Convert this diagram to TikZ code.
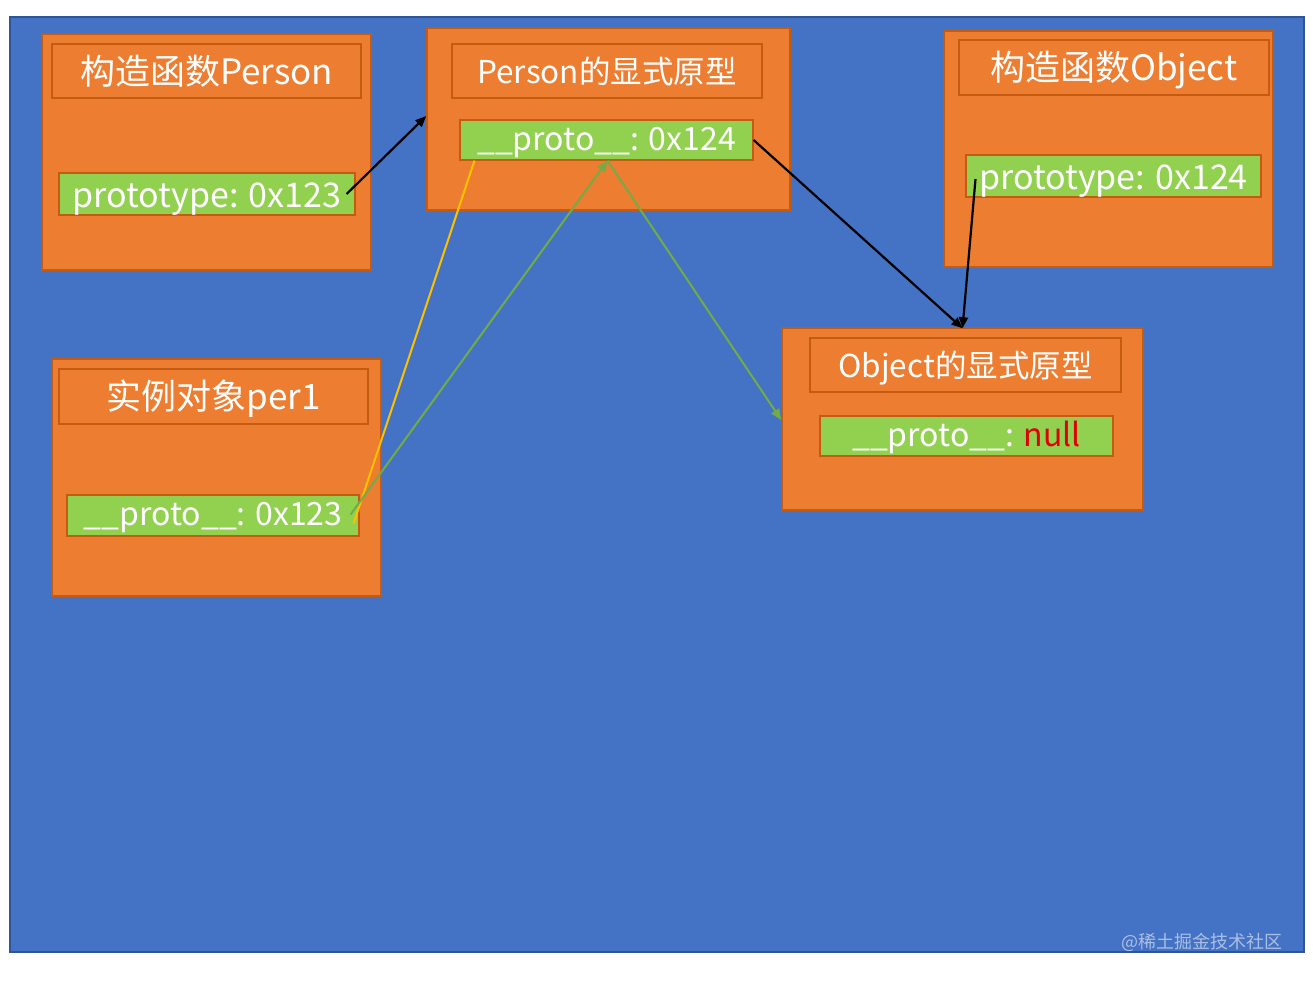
\documentclass[tikz,border=0pt]{standalone}
\usepackage{fontspec}
\setmainfont{Noto Sans CJK SC}
\usetikzlibrary{arrows.meta}
\definecolor{bgblue}{HTML}{4472C4}
\definecolor{bgedge}{HTML}{2F5597}
\definecolor{boxorange}{HTML}{ED7D31}
\definecolor{boxedge}{HTML}{C55A11}
\definecolor{slotgreen}{HTML}{92D050}
\definecolor{linkgreen}{HTML}{70AD47}
\definecolor{linkgold}{HTML}{FFC000}
\definecolor{nullred}{HTML}{E00000}
\tikzset{
  objbox/.style={draw=boxedge, line width=1.5pt, fill=boxorange, inner sep=0pt},
  titlebox/.style={draw=boxedge, line width=1.5pt, text=white, inner sep=0pt},
  slotbox/.style={draw=boxedge, line width=1.2pt, fill=slotgreen, text=white, inner sep=0pt},
  bigtext/.style={font=\fontsize{35}{40}\selectfont, text height=26pt, text depth=0pt},
  midtext/.style={font=\fontsize{31.5}{36}\selectfont, text height=24pt, text depth=0pt},
  slottext/.style={font=\fontsize{34}{38}\selectfont, text height=26pt, text depth=0pt},
  protext/.style={font=\fontsize{32}{36}\selectfont, text height=20pt, text depth=0pt},
  link/.style={line width=2.2pt, -{Triangle[length=11pt,width=9pt]}}
}
\begin{document}
\begin{tikzpicture}[x=1pt,y=-1pt]
\useasboundingbox (0,0) rectangle (1313,980);
\fill[white] (0,0) rectangle (1313,980);
\draw[bgedge, line width=1.5pt, fill=bgblue] (10,17) rectangle (1304,952);

% constructor Person
\node[objbox, minimum width=329pt, minimum height=236pt] (ctorP) at (206.5,152) {};
\node[titlebox, bigtext, minimum width=309pt, minimum height=54pt] (ctorPtitle) at (206.5,71) {构造函数Person};
\node[slotbox, slottext, minimum width=296pt, minimum height=42pt] (ctorPslot) at (207,194) {prototype: 0x123};

% Person prototype
\node[objbox, minimum width=363pt, minimum height=182pt] (protoP) at (608.5,119) {};
\node[titlebox, midtext, minimum width=310pt, minimum height=54pt] (protoPtitle) at (607,71) {Person的显式原型};
\node[slotbox, protext, minimum width=293pt, minimum height=40pt] (protoPslot) at (606.5,140) {\_\_proto\_\_: 0x124};

% constructor Object
\node[objbox, minimum width=329pt, minimum height=236pt] (ctorO) at (1108.5,149) {};
\node[titlebox, bigtext, minimum width=310pt, minimum height=55pt] (ctorOtitle) at (1114,67.5) {构造函数Object};
\node[slotbox, slottext, minimum width=295pt, minimum height=42pt] (ctorOslot) at (1113.5,176) {prototype: 0x124};

% instance per1
\node[objbox, minimum width=329pt, minimum height=237pt] (per) at (216.5,477.5) {};
\node[titlebox, bigtext, minimum width=309pt, minimum height=55pt] (pertitle) at (213.5,396.5) {实例对象per1};
\node[slotbox, protext, minimum width=292pt, minimum height=41pt] (perslot) at (213,515.5) {\_\_proto\_\_: 0x123};

% Object prototype
\node[objbox, minimum width=361pt, minimum height=182pt] (protoO) at (962.5,419) {};
\node[titlebox, midtext, minimum width=311pt, minimum height=54pt] (protoOtitle) at (965.5,365) {Object的显式原型};
\node[slotbox, protext, minimum width=293pt, minimum height=40pt] (protoOslot) at (966.5,436) {\_\_proto\_\_: \textcolor{nullred}{null}};

% links
\coordinate (ctorPout) at ([xshift=-9pt]ctorPslot.east);
\coordinate (ctorOout) at ([xshift=-138pt,yshift=-3pt]ctorOslot.center);
\coordinate (perout) at ([xshift=-6pt,yshift=-8pt]perslot.east);
\coordinate (perout2) at ([xshift=-9pt,yshift=1pt]perslot.east);
\coordinate (protoPin) at ([xshift=1pt]protoPslot.south);
\coordinate (protoPleft) at ([xshift=-132pt]protoPslot.south);
\coordinate (protoOin) at ([yshift=-1pt]protoO.north);
\coordinate (protoOside) at ([yshift=-1pt]protoO.west);

\draw[link] (ctorPout) -- ([yshift=3pt]protoP.west);
\draw[link] (protoPslot.east) -- (protoOin);
\draw[link] (ctorOout) -- (protoOin);
\draw[linkgold, line width=2pt] (perout) -- (protoPleft);
\draw[linkgreen, line width=2pt, -{Triangle[length=11pt,width=9pt]}] (perout2) -- (protoPin);
\draw[linkgreen, line width=2pt, -{Triangle[length=11pt,width=9pt]}] (protoPin) -- (protoOside);

\node[text=white, opacity=0.55, font=\fontsize{18}{20}\selectfont, anchor=east] (mark) at (1286,942) {@稀土掘金技术社区};
\end{tikzpicture}
\end{document}
